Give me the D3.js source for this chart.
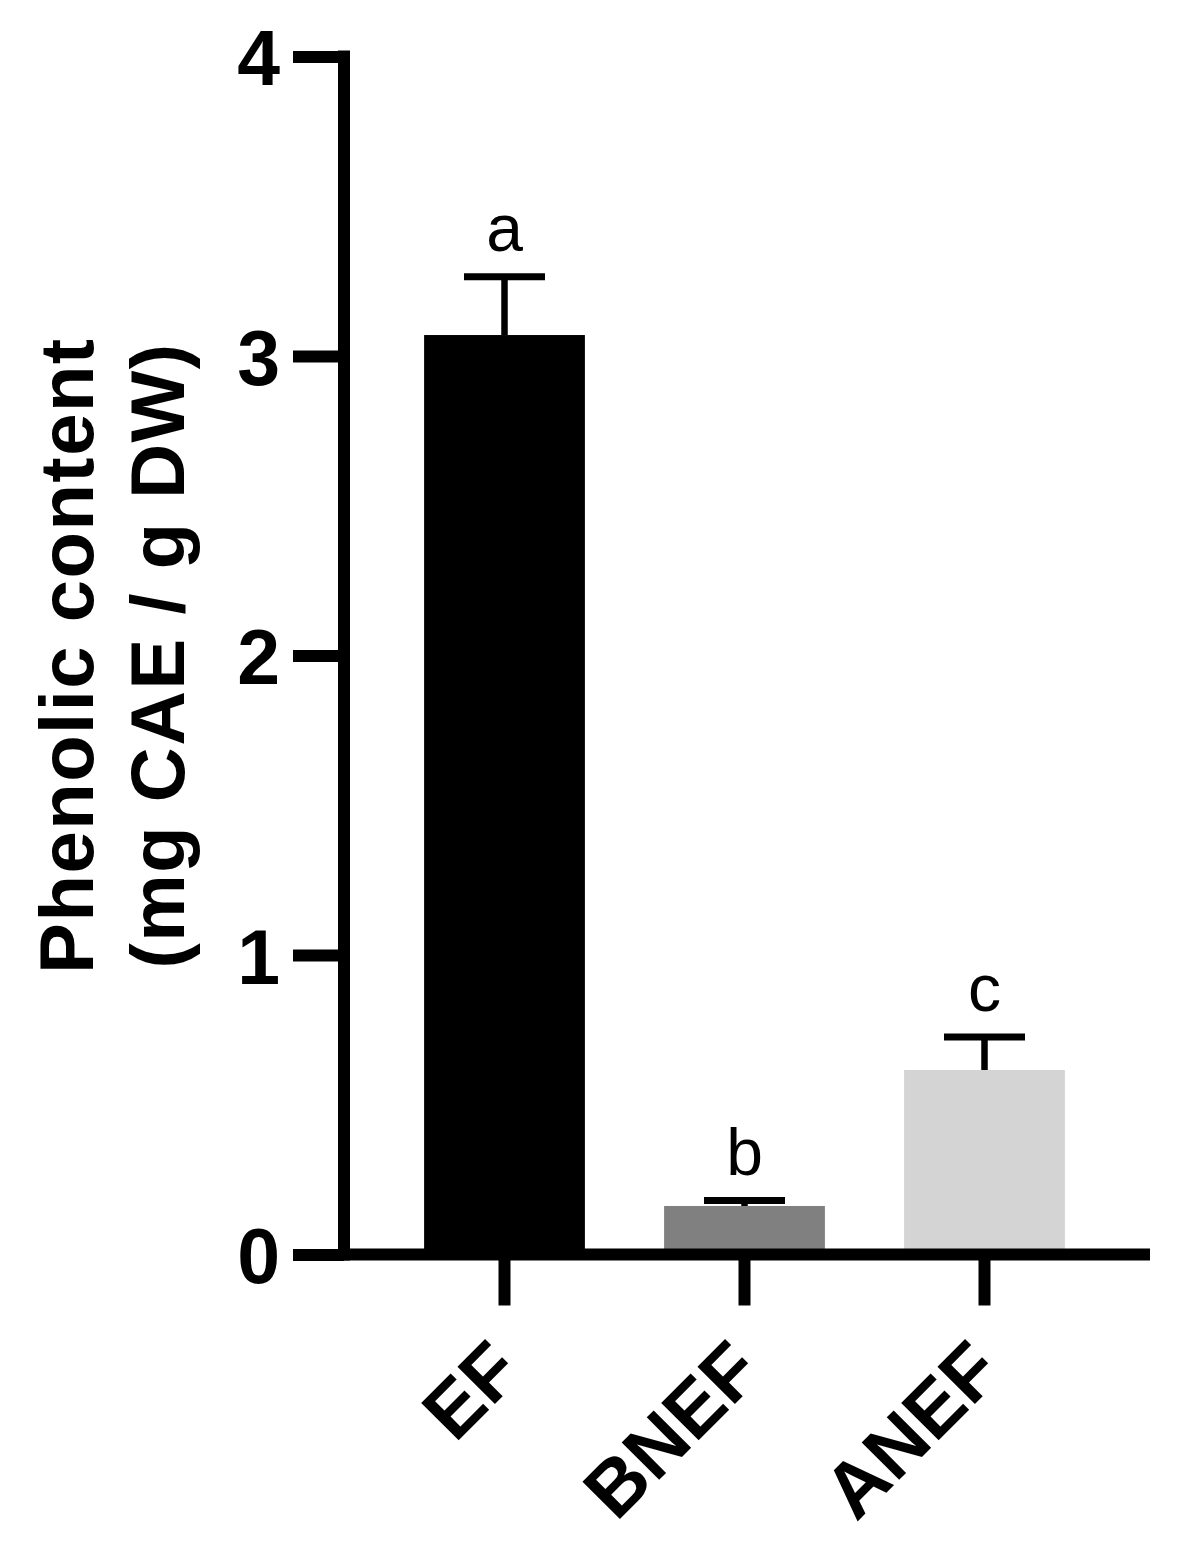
<!DOCTYPE html>
<html>
<head>
<meta charset="utf-8">
<script src="https://cdn.jsdelivr.net/npm/d3@7"></script>
<style>
  body { margin: 0; background: #fff; }
  svg { display: block; }
  text { font-family: "Liberation Sans", Arial, sans-serif; fill: #000; }
</style>
</head>
<body>
<svg id="chart"></svg>
<script>
// data
const groups = ['EF', 'BNEF', 'ANEF'];
const means = [3.07, 0.162, 0.616];
const errors = [0.195, 0.018, 0.11];
const letters = ['a', 'b', 'c'];
const barColors = ['#000000', '#808080', '#d4d4d4'];
const yTicks = [0, 1, 2, 3, 4];

class BarChart {

  constructor(_config) {
    this.config = {
      parentElement: _config.parentElement,
      containerWidth: _config.containerWidth || 1186,
      containerHeight: _config.containerHeight || 1562
    };
    this.data = groups.map((g, i) => ({
      group: g, mean: means[i], err: errors[i], letter: letters[i], color: barColors[i]
    }));
    this.initVis();
  }

  initVis() {
    let vis = this;

    vis.svg = d3.select(vis.config.parentElement)
        .attr('width', vis.config.containerWidth)
        .attr('height', vis.config.containerHeight);

    vis.yScale = d3.scaleLinear()
        .domain([0, 4])
        .range([1254.5, 56.5]);

    vis.xScale = d3.scaleBand()
        .domain(groups)
        .range([384.5, 1104.5])
        .paddingInner(0.33)
        .paddingOuter(0.165);

    vis.axisX = 344;
    vis.axisRight = 1150;

    vis.chart = vis.svg.append('g');
    vis.updateVis();
  }

  updateVis() {
    this.renderVis();
  }

  renderVis() {
    let vis = this;
    const y = vis.yScale, x = vis.xScale;
    const bw = x.bandwidth();

    // bars
    vis.chart.selectAll('.bar')
      .data(vis.data)
      .join('rect')
        .attr('class', 'bar')
        .attr('x', d => x(d.group))
        .attr('y', d => y(d.mean))
        .attr('width', bw)
        .attr('height', d => y(0) - y(d.mean))
        .attr('fill', d => d.color);

    // error bars (upper only)
    vis.chart.selectAll('.err-stem')
      .data(vis.data)
      .join('line')
        .attr('class', 'err-stem')
        .attr('x1', d => x(d.group) + bw / 2)
        .attr('x2', d => x(d.group) + bw / 2)
        .attr('y1', d => y(d.mean))
        .attr('y2', d => y(d.mean + d.err))
        .attr('stroke', '#000')
        .attr('stroke-width', 6.5);

    vis.chart.selectAll('.err-cap')
      .data(vis.data)
      .join('line')
        .attr('class', 'err-cap')
        .attr('x1', d => x(d.group) + bw / 2 - 40.5)
        .attr('x2', d => x(d.group) + bw / 2 + 40.5)
        .attr('y1', d => y(d.mean + d.err))
        .attr('y2', d => y(d.mean + d.err))
        .attr('stroke', '#000')
        .attr('stroke-width', 7);

    // significance letters
    vis.chart.selectAll('.sig')
      .data(vis.data)
      .join('text')
        .attr('class', 'sig')
        .attr('x', d => x(d.group) + bw / 2)
        .attr('y', d => y(d.mean + d.err) - 26)
        .attr('text-anchor', 'middle')
        .style('font-size', '66px')
        .text(d => d.letter);

    // y axis
    const yAxisG = vis.chart.append('g')
        .attr('transform', `translate(${vis.axisX},0)`)
        .call(d3.axisLeft(y).tickValues(yTicks).tickFormat(d3.format('d'))
          .tickSize(51).tickSizeOuter(0).tickPadding(13));
    yAxisG.select('.domain')
        .attr('d', `M0,${y(4) - 6}V${y(0) + 6}`)
        .attr('stroke', '#000')
        .attr('stroke-width', 12);
    yAxisG.selectAll('.tick line')
        .attr('stroke', '#000')
        .attr('stroke-width', 12);
    yAxisG.selectAll('.tick text')
        .attr('dy', null)
        .attr('y', 28)
        .style('font-size', '77px')
        .style('font-weight', 'bold')
        .style('font-family', '"Liberation Sans", Arial, sans-serif');

    // x axis
    const xAxisG = vis.chart.append('g')
        .attr('transform', `translate(0,${y(0)})`)
        .call(d3.axisBottom(x).tickSize(51).tickSizeOuter(0));
    xAxisG.select('.domain')
        .attr('d', `M${vis.axisX},0H${vis.axisRight}`)
        .attr('stroke', '#000')
        .attr('stroke-width', 12);
    xAxisG.selectAll('.tick line')
        .attr('stroke', '#000')
        .attr('stroke-width', 12);
    xAxisG.selectAll('.tick text')
        .attr('y', null)
        .attr('dy', null)
        .attr('text-anchor', 'end')
        .attr('transform', 'translate(20,120) rotate(-45)')
        .style('font-size', '77px')
        .style('font-weight', 'bold')
        .style('font-family', '"Liberation Sans", Arial, sans-serif');

    // y axis title
    const title = vis.svg.append('text')
        .attr('transform', `translate(93,${(y(0) + y(4)) / 2}) rotate(-90)`)
        .attr('text-anchor', 'middle')
        .style('font-size', '76px')
        .style('font-weight', 'bold')
        .style('letter-spacing', '1.5px');
    title.append('tspan').attr('x', 0).attr('y', 0).text('Phenolic content');
    title.append('tspan').attr('x', 0).attr('y', 91).text('(mg CAE / g DW)');
  }
}

new BarChart({ parentElement: '#chart' });
</script>
</body>
</html>
